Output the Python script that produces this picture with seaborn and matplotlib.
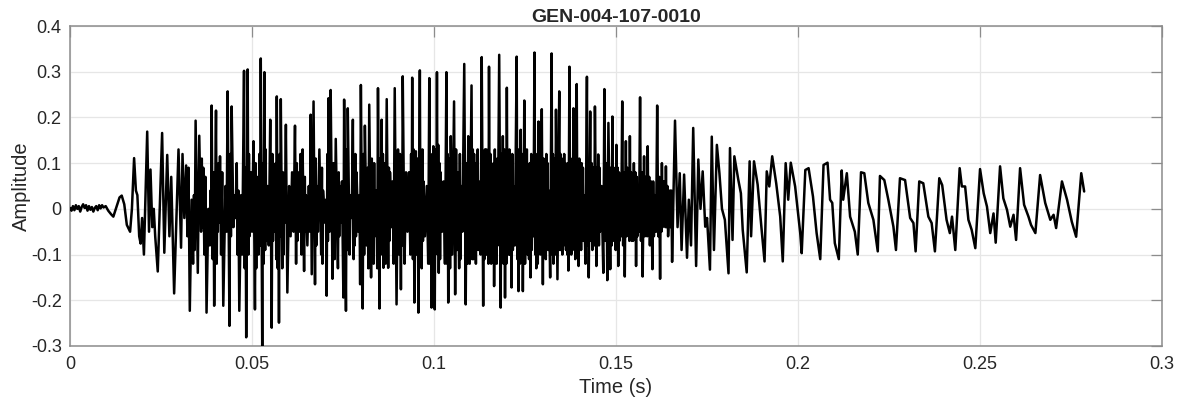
import numpy as np
import pandas as pd
import matplotlib
matplotlib.use("Agg")
import matplotlib.pyplot as plt
import seaborn as sns

# ---- data: (time in ms, amplitude) ----
seg_onset = [(0.0,0.002),(0.4,-0.004),(0.8,0.006),(1.2,-0.003),(1.6,0.008),(2.0,0.0),(2.4,0.006),(2.8,-0.006),
    (3.2,0.004),(3.6,0.01),(4.0,0.002),(4.4,0.008),(4.8,-0.004),(5.2,0.006),(5.6,-0.002),(6.0,0.004),(6.4,-0.006),
    (6.8,0.002),(7.2,0.006),(7.6,-0.003),(8.0,0.008),(8.4,0.001),(8.8,0.008),(9.2,0.003),(9.8,0.006),(10.5,-0.004),
    (11.3,-0.012),(11.9,-0.017),(12.8,0.005),(13.6,0.025),(14.2,0.029),(14.9,0.01),(15.6,-0.035),(16.5,-0.05),
    (17.0,0.0),(17.6,0.111),(18.1,0.04),(18.5,0.03),(19.0,-0.06),(19.4,-0.076),(19.8,-0.02),(20.3,-0.10),
    (21.2,0.169),(21.7,-0.05),(22.1,0.086),(22.6,-0.04),(23.0,0.0),(23.4,-0.06),(24.1,-0.137),(25.3,0.166),
    (25.9,-0.096),(26.7,0.118),(27.3,-0.06),(27.8,0.07),(28.6,-0.185),(29.8,0.13)]

seg_30_60 = [(30.5,-0.085),(30.9,0.12),(31.4,-0.02),(31.9,0.095),(32.9,-0.223),(33.4,0.02),(33.8,-0.12),
    (34.5,0.193),(35.1,-0.14),(35.5,0.16),(36.0,-0.05),(36.6,0.09),(37.5,-0.227),(38.0,0.0),(38.4,-0.08),
    (38.9,0.226),(39.6,-0.212),(40.1,0.215),(40.6,-0.05),(41.2,0.115),(42.1,-0.212),(42.7,0.05),(43.0,-0.05),
    (43.3,0.257),(43.8,-0.256),(44.4,0.224),(44.9,-0.04),(45.3,0.03),(45.5,-0.02),(45.8,0.10),(46.5,-0.223),
    (47.0,0.03),(47.3,-0.1),(47.8,0.302),(48.4,-0.281),(48.8,0.305),(49.3,-0.06),(49.7,0.08),(50.0,-0.05),
    (50.4,0.148),(50.8,-0.22),(51.3,0.05),(51.8,-0.1),(52.4,0.329),(52.8,-0.30),(53.4,0.299),(53.9,-0.07),
    (54.3,0.05),(54.6,-0.08),(55.0,0.195),(55.4,-0.26),(55.9,0.06),(56.3,-0.05),(56.8,0.246),(57.4,-0.249),
    (57.9,0.24),(58.3,-0.13),(58.8,0.05),(59.0,-0.03),(59.3,0.184),(59.7,-0.183)]

seg_60_90 = [(60.2,0.05),(60.6,-0.06),(61.0,0.08),(61.4,-0.05),(61.8,0.182),(62.1,-0.12),(62.6,0.08),
    (63.0,-0.05),(63.9,0.13),(64.3,-0.136),(64.8,0.03),(65.2,-0.08),(65.6,0.05),(65.9,-0.05),(66.1,0.206),
    (66.4,-0.143),(66.9,0.235),(67.3,-0.165),(67.8,0.05),(68.1,-0.05),(68.5,0.13),(69.0,-0.1),(69.5,0.04),
    (70.0,-0.03),(70.3,0.02),(70.5,-0.19),(71.0,0.242),(71.3,-0.05),(71.6,0.26),(72.1,-0.153),(73.0,0.153),
    (73.6,-0.13),(74.1,0.05),(74.4,-0.03),(74.7,0.06),(75.1,-0.194),(75.3,0.239),(75.8,-0.223),(76.3,0.22),
    (76.8,-0.1),(77.1,0.03),(77.4,-0.02),(77.7,0.195),(78.2,-0.08),(78.7,0.08),(79.2,-0.05),(79.5,0.03),
    (79.7,-0.165),(79.9,0.271),(80.4,-0.218),(81.0,0.182),(81.5,-0.08),(82.2,0.228),(82.7,-0.15),(83.2,0.06),
    (83.7,-0.06),(84.1,0.04),(84.4,-0.13),(84.6,0.264),(85.0,-0.218),(85.6,0.195),(86.1,-0.129),(87.0,0.24),
    (87.4,-0.129),(87.9,0.08),(88.3,-0.04),(88.6,0.06),(88.9,-0.12),(89.2,0.264),(89.7,-0.209)]

seg_90_120 = [(90.1,0.13),(90.9,-0.176),(91.4,0.29),(91.9,-0.12),(92.3,0.08),(92.7,-0.05),(93.1,0.08),
    (93.5,-0.1),(94.0,0.287),(94.6,-0.205),(95.0,0.126),(95.7,-0.227),(96.1,0.303),(96.6,-0.13),(97.1,0.06),
    (97.5,-0.06),(98.0,0.05),(98.4,-0.12),(98.7,0.286),(99.3,-0.216),(99.8,0.137),(100.2,-0.22),(100.8,0.299),
    (101.3,-0.14),(101.8,0.08),(102.2,-0.05),(102.6,0.06),(103.0,-0.12),(103.4,0.299),(103.9,-0.205),
    (104.6,0.159),(105.0,-0.1),(105.5,0.235),(105.8,-0.187),(106.5,0.08),(106.9,-0.13),(107.4,0.05),
    (107.8,-0.05),(108.3,0.317),(108.7,-0.209),(109.4,0.159),(109.8,-0.12),(110.3,0.27),(110.8,-0.11),
    (111.3,0.1),(111.8,-0.08),(112.3,0.06),(112.8,-0.1),(113.1,0.332),(113.5,-0.212),(114.0,0.13),(114.6,-0.1),
    (115.1,0.311),(115.7,-0.12),(116.0,0.05),(116.5,-0.169),(117.0,0.05),(117.5,-0.08),(117.9,0.337),
    (118.3,-0.216),(118.9,0.159),(119.5,-0.194)]

seg_120_150 = [(120.0,0.265),(120.5,-0.1),(121.0,0.06),(121.3,-0.172),(121.8,0.05),(122.2,-0.08),
    (122.7,0.333),(123.2,-0.18),(123.8,0.173),(124.4,-0.18),(124.8,0.237),(125.3,-0.09),(125.9,0.05),
    (126.5,-0.15),(127.0,0.04),(127.3,-0.06),(127.6,0.342),(128.1,-0.13),(128.7,0.191),(129.2,-0.1),
    (129.6,0.218),(129.9,-0.165),(130.5,0.06),(131.0,-0.08),(131.5,0.04),(131.9,-0.15),(132.3,0.34),
    (132.8,-0.12),(133.5,0.217),(133.9,-0.154),(134.4,0.257),(134.9,-0.09),(135.4,0.06),(135.9,-0.05),
    (136.4,0.04),(136.9,-0.135),(137.2,0.311),(137.7,-0.1),(138.3,0.22),(138.8,-0.11),(139.2,0.273),
    (139.7,-0.125),(140.2,0.05),(140.7,-0.05),(141.2,0.03),(141.6,-0.12),(142.0,0.289),(142.5,-0.15),
    (142.9,0.213),(143.5,-0.09),(144.2,0.224),(144.6,-0.125),(145.1,0.119),(145.6,-0.05),(146.0,0.05),
    (146.5,-0.14),(146.8,0.262),(147.6,-0.156),(147.9,0.188),(148.4,-0.132),(149.0,0.202),(149.5,-0.06)]

seg_150_180 = [(150.1,0.14),(150.6,-0.125),(151.1,0.03),(151.4,-0.06),(151.7,0.235),(152.4,-0.148),
    (152.7,0.148),(153.3,-0.05),(153.8,0.159),(154.3,-0.07),(154.9,0.10),(155.5,-0.125),(156.0,0.03),
    (156.3,-0.05),(156.6,0.244),(157.3,-0.148),(157.7,0.115),(158.2,-0.03),(158.7,0.137),(159.3,-0.08),
    (159.6,0.06),(160.0,-0.132),(160.6,0.03),(161.0,-0.05),(161.3,0.226),(162.1,-0.153),(162.6,0.10),
    (163.2,-0.03),(163.7,0.093),(164.3,-0.06),(164.8,0.04),(165.4,-0.116),(166.2,0.193),(166.9,-0.04),
    (167.5,0.078),(168.0,-0.09),(168.7,0.075),(169.5,-0.107),(170.0,0.02),(170.6,-0.08),(171.2,0.177),
    (172.0,-0.125),(172.6,0.108),(173.2,0.0),(173.8,0.082),(174.5,-0.039),(175.0,-0.02),(175.8,-0.133),
    (176.3,0.158),(176.9,-0.09),(177.7,0.14),(178.4,0.078),(179.1,0.0),(179.9,-0.024)]

seg_180_230 = [(180.9,-0.141),(181.3,0.133),(182.0,-0.068),(182.5,0.115),(183.6,0.063),(184.3,0.034),
    (184.8,-0.046),(185.9,-0.139),(186.7,0.104),(187.1,-0.06),(187.9,0.104),(188.9,0.053),(190.0,-0.046),
    (190.8,-0.115),(191.4,0.082),(192.1,0.049),(192.9,0.115),(194.0,0.056),(195.1,-0.017),(195.8,-0.115),
    (196.6,0.1),(197.3,0.02),(198.0,0.101),(199.2,0.049),(200.6,-0.053),(201.0,-0.097),(202.0,0.085),
    (202.9,0.089),(204.1,0.027),(205.1,-0.053),(206.1,-0.11),(207.0,0.096),(208.1,0.101),(208.8,0.02),
    (209.4,0.013),(210.1,-0.075),(211.2,-0.11),(212.0,0.084),(212.4,0.02),(213.4,0.078),(214.3,-0.017),
    (215.6,-0.05),(216.4,-0.1),(217.3,0.08),(218.2,0.078),(219.3,0.013),(220.7,-0.024),(221.9,-0.093),
    (222.5,0.072),(223.7,0.063),(224.8,0.02),(226.2,-0.039),(226.9,-0.09),(228.0,0.067),(229.4,0.063)]

seg_230_end = [(230.8,-0.02),(231.7,-0.031),(232.3,-0.093),(233.3,0.06),(234.4,0.056),(235.8,-0.017),
    (236.7,-0.031),(237.6,-0.093),(238.8,0.067),(239.6,0.052),(240.8,-0.024),(241.7,-0.053),(242.3,-0.017),
    (243.2,-0.09),(244.4,0.089),(245.0,0.049),(245.9,0.049),(246.8,-0.024),(247.7,-0.046),(248.7,-0.086),
    (250.0,0.087),(251.0,0.034),(251.9,0.005),(252.8,-0.053),(253.7,-0.01),(254.3,-0.074),(255.5,0.093),
    (256.4,0.023),(257.4,-0.002),(258.3,-0.039),(259.2,-0.013),(259.9,-0.068),(261.0,0.089),(262.1,0.009),
    (263.3,-0.017),(264.0,-0.035),(265.2,-0.053),(266.5,0.074),(267.9,0.013),(269.3,-0.024),(270.2,-0.013),
    (270.9,-0.042),(272.5,0.06),(273.9,0.02),(275.2,-0.028),(276.4,-0.061),(277.8,0.078),(278.6,0.038)]

# fine ripples inside the dense black band (estimates)
rip_30_60 = [(32.25,-0.06),(32.55,0.09),(34.05,0.03),(34.25,-0.09),(36.2,0.11),(36.4,-0.04),(36.9,-0.1),
    (37.2,0.07),(38.6,0.04),(38.75,-0.07),(39.2,-0.11),(39.4,0.08),(40.3,-0.12),(40.45,0.05),(40.8,0.1),
    (41.0,-0.03),(41.5,-0.1),(41.8,0.08),(44.0,0.12),(44.2,-0.06),(46.0,-0.1),(46.25,0.04),(48.0,-0.13),
    (48.2,0.09),(49.0,-0.1),(49.15,0.12),(51.0,0.1),(51.15,-0.13),(51.5,-0.04),(51.65,0.07),(52.0,0.12),
    (52.2,-0.08),(53.0,0.1),(53.2,-0.12),(53.6,-0.09),(53.75,0.13),(55.6,0.12),(55.75,-0.07),(56.5,0.1),
    (56.65,-0.11),(57.05,-0.13),(57.2,0.09),(57.6,0.12),(57.75,-0.06),(58.5,0.08),(58.65,-0.1)]

rip_60_90 = [(62.3,0.1),(62.45,-0.07),(63.3,0.12),(63.6,-0.1),(64.5,0.07),(64.65,-0.05),(67.5,0.11),
    (67.65,-0.08),(69.2,0.09),(69.35,-0.12),(70.7,0.12),(70.85,-0.07),(72.4,0.1),(72.7,-0.11),(73.8,0.08),
    (73.95,-0.06),(76.0,0.13),(76.15,-0.09),(77.9,-0.11),(78.05,0.1),(78.4,0.12),(78.55,-0.06),(80.6,0.12),
    (80.8,-0.1),(81.75,0.09),(81.95,-0.13),(82.9,0.11),(83.05,-0.08),(83.4,-0.12),(83.55,0.1),(85.2,0.11),
    (85.4,-0.1),(85.8,-0.07),(85.95,0.12),(86.4,0.1),(86.7,-0.12),(87.6,0.09),(87.75,-0.07)]

rip_90_120 = [(90.4,-0.1),(90.65,0.12),(91.1,0.09),(91.25,-0.08),(93.7,0.12),(93.85,-0.09),(94.2,-0.11),
    (94.4,0.13),(95.25,-0.1),(95.5,0.11),(96.3,-0.12),(96.45,0.1),(96.8,0.13),(96.95,-0.07),(98.9,-0.12),
    (99.1,0.1),(99.5,0.12),(99.65,-0.09),(100.4,0.13),(100.6,-0.08),(101.0,-0.1),(101.15,0.14),(101.5,0.1),
    (101.65,-0.11),(103.6,-0.12),(103.75,0.12),(104.15,0.11),(104.4,-0.13),(106.05,0.13),(106.3,-0.09),
    (107.1,0.12),(107.25,-0.11),(108.95,0.1),(109.2,-0.12),(110.5,-0.11),(110.65,0.13),(111.0,0.12),
    (111.15,-0.1),(111.5,-0.12),(111.65,0.1),(112.0,0.13),(112.15,-0.09),(113.7,0.12),(113.85,-0.11),
    (114.2,-0.1),(114.4,0.13),(114.8,0.11),(114.95,-0.12),(115.3,-0.09),(115.5,0.12),(116.2,-0.11),
    (116.35,0.1),(116.7,0.13),(116.85,-0.08),(117.2,-0.12),(117.35,0.11),(118.5,0.12),(118.7,-0.1),
    (119.1,-0.12),(119.3,0.13)]

rip_120_150 = [(119.7,0.1),(119.85,-0.12),(120.2,-0.08),(120.35,0.12),(120.7,0.13),(120.85,-0.1),
    (121.5,0.12),(121.65,-0.09),(122.9,-0.11),(123.05,0.13),(123.4,0.1),(123.6,-0.12),(124.0,-0.1),
    (124.2,0.12),(125.0,-0.12),(125.15,0.11),(125.5,0.13),(125.7,-0.1),(126.1,-0.11),(126.3,0.1),
    (126.7,0.12),(126.85,-0.09),(127.8,-0.1),(127.95,0.12),(128.3,0.1),(128.5,-0.12),(128.9,-0.09),
    (129.05,0.12),(130.1,0.11),(130.3,-0.1),(130.7,-0.11),(130.85,0.12),(131.2,0.1),(131.35,-0.09),
    (132.5,-0.1),(132.65,0.12),(133.05,0.11),(133.3,-0.1),(134.6,-0.09),(134.75,0.12),(135.1,0.11),
    (135.25,-0.1),(135.6,-0.08),(135.75,0.12),(136.1,0.1),(136.25,-0.09),(136.6,-0.1),(136.75,0.1),
    (137.4,-0.08),(137.55,0.11),(137.9,0.1),(138.1,-0.09),(138.5,-0.07),(138.65,0.11),(139.4,-0.08),
    (139.55,0.1),(139.9,0.11),(140.05,-0.08),(140.4,-0.09),(140.55,0.1),(140.9,0.09),(141.05,-0.07),
    (142.2,-0.08),(142.35,0.1),(143.1,-0.07),(143.3,0.1),(143.75,0.09),(144.0,-0.08),(144.8,0.09),
    (144.95,-0.07),(145.3,-0.08),(145.45,0.09),(147.1,-0.07),(147.35,0.1),(148.6,0.09),(148.8,-0.08),
    (149.2,-0.07),(149.35,0.09)]

rip_150_165 = [(149.7,0.08),(149.9,-0.09),(150.3,-0.06),(150.45,0.09),(150.8,0.08),(150.95,-0.07),
    (151.95,-0.08),(152.2,0.08),(152.9,-0.06),(153.1,0.09),(153.5,0.08),(153.65,-0.07),(154.0,-0.06),
    (154.15,0.08),(154.5,0.07),(154.7,-0.07),(155.1,-0.06),(155.3,0.08),(155.7,0.07),(155.85,-0.06),
    (156.85,-0.07),(157.1,0.08),(157.9,-0.06),(158.05,0.07),(158.4,0.07),(158.55,-0.06),(158.9,-0.05),
    (159.1,0.07),(160.2,0.06),(160.4,-0.06),(161.6,-0.06),(161.85,0.07),(162.3,0.06),(162.45,-0.05),
    (162.8,-0.04),(163.0,0.06),(163.4,0.06),(163.55,-0.04),(163.9,-0.04),(164.1,0.05),(165.0,-0.04),
    (165.2,0.04)]

x_ticks = [0, 0.05, 0.1, 0.15, 0.2, 0.25, 0.3]
x_tick_labels = ["0", "0.05", "0.1", "0.15", "0.2", "0.25", "0.3"]
y_ticks = [-0.3, -0.2, -0.1, 0, 0.1, 0.2, 0.3, 0.4]
y_tick_labels = ["-0.3", "-0.2", "-0.1", "0", "0.1", "0.2", "0.3", "0.4"]
title = "GEN-004-107-0010"

segments = [seg_onset, seg_30_60, seg_60_90, seg_90_120, seg_120_150, seg_150_180, seg_180_230, seg_230_end,
            rip_30_60, rip_60_90, rip_90_120, rip_120_150, rip_150_165]
pts = sorted([p for s in segments for p in s], key=lambda p: p[0])
df = pd.DataFrame({"t": [p[0] / 1000.0 for p in pts], "amp": [p[1] for p in pts]})

sns.set_theme(style="white")
plt.rcParams["font.family"] = ["Liberation Sans", "DejaVu Sans"]
plt.rcParams["axes.unicode_minus"] = False

fig = plt.figure(figsize=(11.77, 4.04), dpi=100)
ax = fig.add_axes([0.0595, 0.1436, 0.9278, 0.792])

sns.lineplot(data=df, x="t", y="amp", color="black", linewidth=1.8, sort=False,
             estimator=None, ax=ax, zorder=3)

ax.set_xlim(0, 0.3)
ax.set_ylim(-0.3, 0.4)
ax.set_xticks(x_ticks)
ax.set_xticklabels(x_tick_labels)
ax.set_yticks(y_ticks)
ax.set_yticklabels(y_tick_labels)
ax.grid(True, color="#e6e6e6", linewidth=0.9, zorder=0)
ax.set_axisbelow(True)
for sp in ax.spines.values():
    sp.set_color("#8c8c8c")
    sp.set_linewidth(1.1)
    sp.set_visible(True)
ax.tick_params(direction="in", length=8, width=0.9, color="#8c8c8c",
               top=True, right=True, labelsize=13, labelcolor="#262626")
ax.tick_params(axis="x", pad=7)
ax.tick_params(axis="y", pad=6)
ax.set_xlabel("Time (s)", fontsize=14.5, color="#262626", labelpad=4)
ax.set_ylabel("Amplitude", fontsize=14.5, color="#262626", labelpad=0)
ax.set_title(title, fontsize=14, fontweight="bold", color="#262626", pad=3)

fig.savefig("out.png", dpi=100)
